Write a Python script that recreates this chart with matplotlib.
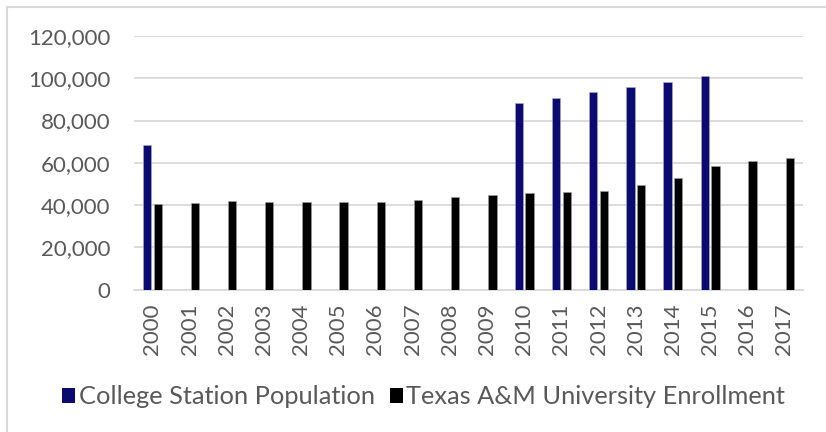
import matplotlib
matplotlib.use("Agg")
import matplotlib.pyplot as plt
import numpy as np
from matplotlib.patches import Rectangle, Patch
from matplotlib.ticker import FuncFormatter

years = [str(y) for y in range(2000, 2018)]
population = [68300, None, None, None, None, None, None, None, None, None,
              88300, 90800, 93500, 95700, 98400, 100900, None, None]
enrollment = [40500, 41150, 41950, 41600, 41600, 41500, 41600, 42300, 43700,
              44650, 45700, 46350, 46500, 49650, 52700, 58500, 60700, 62300]

pop_color = "#0A0A70"
enr_color = "#000000"
text_color = "#595959"
grid_color = "#D9D9D9"

plt.rcParams["font.family"] = ["Lato", "DejaVu Sans"]

fig = plt.figure(figsize=(8.26, 4.32), dpi=100)
ax = fig.add_axes([0.1619, 0.3294, 0.9722 - 0.1619, 0.9167 - 0.3294])

x = np.arange(len(years))
w = 0.225
off = 0.145
pop_vals = np.array([np.nan if v is None else v for v in population], dtype=float)
ax.bar(x - off, np.nan_to_num(pop_vals), width=w, color=pop_color,
       edgecolor="#B0B0C8", linewidth=0.4, zorder=3)
ax.bar(x + off, enrollment, width=w, color=enr_color,
       edgecolor="#A0A0A0", linewidth=0.4, zorder=3)

ax.set_xlim(-0.5, len(years) - 0.5)
ax.set_ylim(0, 120000)
ax.set_yticks(np.arange(0, 120001, 20000))
ax.yaxis.set_major_formatter(FuncFormatter(lambda v, p: f"{int(v):,}"))
ax.set_xticks(x)
ax.set_xticklabels(years, rotation=90)
ax.grid(axis="y", color=grid_color, linewidth=1.3, zorder=0)
for s in ["top", "right", "left"]:
    ax.spines[s].set_visible(False)
ax.spines["bottom"].set_color(grid_color)
ax.spines["bottom"].set_linewidth(1.3)
ax.tick_params(axis="both", length=0, labelcolor=text_color, labelsize=16)
ax.tick_params(axis="y", pad=17)
ax.tick_params(axis="x", pad=10)

handles = [Patch(facecolor=pop_color, label="College Station Population"),
           Patch(facecolor=enr_color, label="Texas A&M University Enrollment")]
leg = fig.legend(handles=handles, loc="center", bbox_to_anchor=(0.513, 1 - 397 / 432),
                 ncol=2, frameon=False, fontsize=18.3, handlelength=0.5,
                 handleheight=0.5, handletextpad=0.15, columnspacing=0.6,
                 borderpad=0, borderaxespad=0)
for t in leg.get_texts():
    t.set_color(text_color)

fig.patches.append(Rectangle((7 / 826, -0.1), 1.2, 1 - 7 / 432 + 0.1,
                             transform=fig.transFigure, fill=False,
                             edgecolor=grid_color, linewidth=1.5))

fig.savefig("out.png", dpi=100)
